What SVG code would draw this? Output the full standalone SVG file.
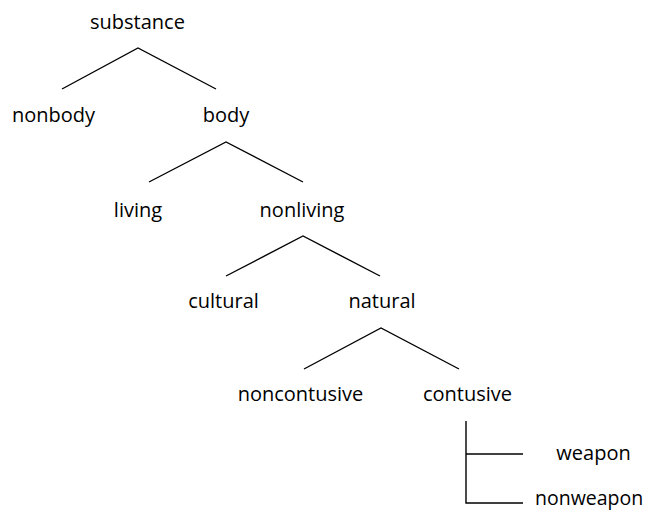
<svg xmlns="http://www.w3.org/2000/svg" width="654" height="510" viewBox="0 0 654 510">
<style>
text{font-family:"Open Sans","Liberation Sans",sans-serif;font-size:20px;fill:#000;text-anchor:middle}
.c{stroke:#000;stroke-width:1.4;fill:none}
</style>
<rect width="654" height="510" fill="#fff"/>
<g id="connectors">
<polyline class="c" points="62,89 138,48 216,89"/>
<polyline class="c" points="149,182 226,142 303,182"/>
<polyline class="c" points="226,276 303,236 380,276"/>
<polyline class="c" points="304,369 381,328 459,369"/>
<polyline class="c" points="466,421 466,503 523,503"/>
<line class="c" x1="466" y1="454" x2="523" y2="454"/>
</g>
<g id="substance"><text x="137.5" y="29">substance</text></g>
<g id="nonbody"><text x="53.5" y="122">nonbody</text></g>
<g id="body"><text x="226" y="122">body</text></g>
<g id="living"><text x="138" y="217">living</text></g>
<g id="nonliving"><text x="302" y="217">nonliving</text></g>
<g id="cultural"><text x="223.5" y="308">cultural</text></g>
<g id="natural"><text x="382" y="308">natural</text></g>
<g id="noncontusive"><text x="300.5" y="401">noncontusive</text></g>
<g id="contusive"><text x="467.5" y="401">contusive</text></g>
<g id="weapon"><text x="593.5" y="460">weapon</text></g>
<g id="nonweapon"><text x="535" y="504.5" style="text-anchor:start;font-size:19.5px">nonweapon</text></g>
</svg>
